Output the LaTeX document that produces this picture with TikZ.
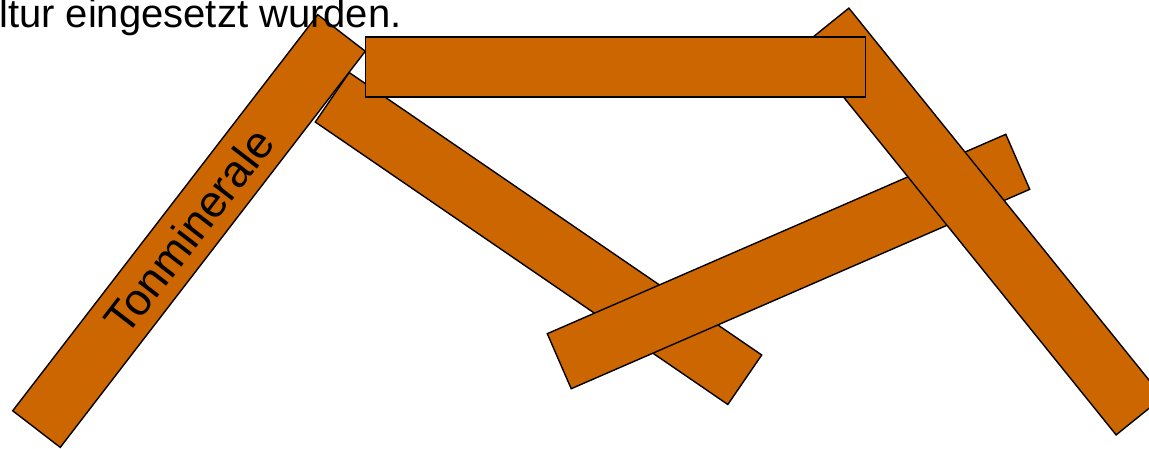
\documentclass[tikz,border=0pt]{standalone}
\usepackage{fontspec}
\setmainfont{Liberation Sans}
\usepackage{xcolor}
\usepackage{tikz}
\definecolor{clay}{RGB}{204,102,0}

\begin{document}
\begin{tikzpicture}[
    x=1pt, y=-1pt,
    plate/.style={
        draw, fill=clay, line width=1.4pt, inner sep=0pt, outer sep=0pt,
        minimum width=500pt, minimum height=60pt
      },
    caption/.style={font=\fontsize{40}{48}\selectfont, inner sep=0pt}
  ]
  \useasboundingbox (0,0) rectangle (1149,448);

  \node[plate, rotate=-34.4] (plateb) at (538.5,238.5) {};
  \node[plate, rotate=23.5] (platee) at (788.5,261.5) {};
  \node[plate, rotate=-51.1] (plated) at (982.5,221.5) {};
  \node[plate] (platec) at (615.5,67) {};
  \node[plate, rotate=52.4, font=\fontsize{45}{54}\selectfont] (tonminerale) at (189,231) {Tonminerale};

  \node[caption, anchor=base west] (satz) at (-1,27) {ltur eingesetzt wurden.};

\end{tikzpicture}
\end{document}
